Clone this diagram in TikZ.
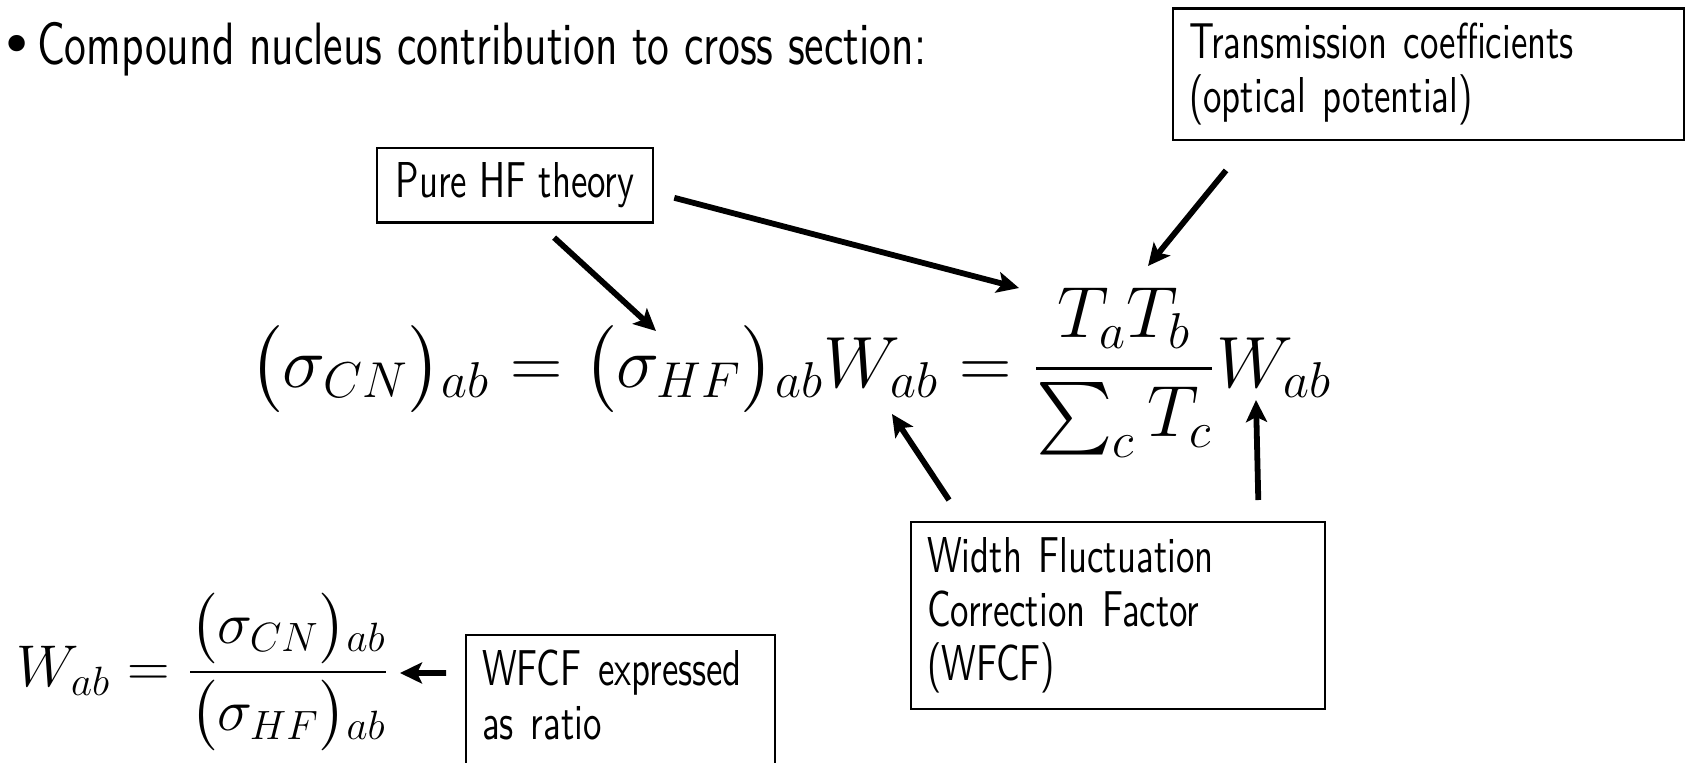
\documentclass[tikz,border=0pt]{standalone}
\usepackage{amsmath}
\usepackage{fontspec}
\usetikzlibrary{arrows.meta, calc, positioning}
\newfontfamily\slidefont{lmsans10-regular.otf}[FakeStretch=0.73]
\newfontfamily\bulletfont{DejaVu Sans}
\newcommand{\headfont}{\slidefont\fontsize{34}{40}\selectfont}
\newcommand{\boxfont}{\slidefont\fontsize{28.7}{30.7}\selectfont}
\newcommand{\eqfont}{\fontsize{20.74}{25}\selectfont}
\newcommand{\smalleqfont}{\fontsize{17.28}{21}\selectfont}

\begin{document}
\begin{tikzpicture}[
    box/.style={draw, line width=1.3pt, anchor=north west, align=left,
                inner xsep=0.32cm, inner ysep=0.29cm, font=\boxfont},
    arr/.style={-{Stealth[length=0.44cm, width=0.42cm, inset=0.1cm]}, line width=3.3pt},
]

    \useasboundingbox (0,0) rectangle (33.72,-15.24);

    % ==========================================
    % --- Heading ---
    % ==========================================
    \node[anchor=base west, inner sep=0, font=\headfont] (head) at (0,-1.28)
        {{\bulletfont\fontsize{32}{38}\selectfont •}\hspace{2pt}Compound nucleus contribution to cross section:};

    % ==========================================
    % --- Main equation ---
    % ==========================================
    \node[anchor=base west, inner sep=0, font=\eqfont, scale=1.99, transform shape] (cross) at (4.98,-7.74)
        {$\displaystyle \bigl(\sigma_{CN}\bigr){}_{ab} = \bigl(\sigma_{HF}\bigr){}_{ab}W_{ab}
          = \frac{T_aT_b}{\sum_c T_c}W_{ab}$};

    % Points the arrows aim at
    \coordinate (hfTip) at (13.12,-6.62);
    \coordinate (fracTip) at (20.38,-5.76);
    \coordinate (transTip) at (22.96,-5.32);
    \coordinate (wTip) at (17.84,-8.28);
    \coordinate (wfTip) at (25.12,-8.0);

    % ==========================================
    % --- Annotation boxes ---
    % ==========================================
    \node[box, align=center, inner xsep=0, minimum width=5.52cm, minimum height=1.46cm] (pure) at (7.52,-2.94)
        {Pure HF theory};
    \node[box, text width=9.58cm, minimum height=2.6cm] (trans) at (23.44,-0.15)
        {Transmission coefficients\\(optical potential)};
    \node[box, text width=7.64cm, minimum height=3.74cm] (wfcf) at (18.2,-10.42)
        {Width Fluctuation\\Correction Factor\\(WFCF)};

    % Arrows into the main equation
    \draw[arr] ([shift={(0.78,-0.28)}]pure.south) -- (hfTip);
    \draw[arr] ([shift={(0.4,-0.25)}]pure.east) -- (fracTip);
    \draw[arr] ([shift={(1.08,-0.59)}]trans.south west) -- (transTip);
    \draw[arr] ([shift={(0.78,0.42)}]wfcf.north west) -- (wTip);
    \draw[arr] ([shift={(-1.36,0.42)}]wfcf.north east) -- (wfTip);

    % ==========================================
    % --- WFCF as a ratio ---
    % ==========================================
    \node[anchor=west, inner sep=0, font=\smalleqfont, scale=1.94, transform shape] (wratio) at (0.32,-13.44)
        {$\displaystyle W_{ab} = \frac{\bigl(\sigma_{CN}\bigr){}_{ab}}{\bigl(\sigma_{HF}\bigr){}_{ab}}$};
    \coordinate (ratioTip) at (8.0,-13.46);

    \node[box, text width=5.54cm, text depth=2cm] (ratio) at (9.3,-12.68)
        {WFCF expressed\\as ratio};
    \draw[arr] ([shift={(-0.38,-0.78)}]ratio.north west) -- (ratioTip);

\end{tikzpicture}
\end{document}
